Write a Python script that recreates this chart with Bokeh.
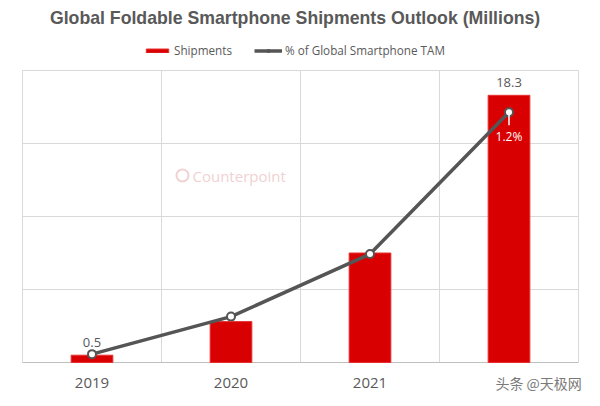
from bokeh.plotting import figure
from bokeh.models import (Range1d, FactorRange, Legend, LegendItem, ColumnDataSource)
from bokeh.core.properties import value
from bokeh.transform import dodge
from bokeh.embed import file_html
from bokeh.resources import INLINE

years = ["2019", "2020", "2021", "2022"]
shipments = [0.5, 2.8, 7.5, 18.3]
tam_pct = [0.04, 0.22, 0.52, 1.2]
ship_labels = ["0.5", "", "", "18.3"]
pct_labels = ["", "", "", "1.2%"]
year_labels = ["2019", "2020", "2021", ""]
grid_values = [5, 10, 15, 20]
boundaries = [0, 1, 2, 3, 4]

title_text = "Global Foldable Smartphone Shipments Outlook (Millions)"

W, H = 600, 406
PX = 14.6          # pixels per million
BASE = 362         # canvas y of the zero line
y_top = 20 + (BASE - 292) / PX
y_bot = -(H - BASE) / PX
pad = (W / 139 - 4) / 2
p = figure(width=W, height=H,
           x_range=FactorRange(*years, range_padding=pad, range_padding_units="absolute"),
           y_range=Range1d(y_bot, y_top),
           output_backend="svg", toolbar_location=None,
           min_border=0, title=None)
pct_scale = 1.4 / 20
p.extra_y_ranges = {"pct": Range1d(y_bot * pct_scale, y_top * pct_scale)}
p.xaxis.visible = False
p.yaxis.visible = False
p.xgrid.visible = False
p.ygrid.visible = False
p.outline_line_color = None
p.background_fill_color = "white"
p.border_fill_color = "white"

# grid
p.segment(x0=[0] * len(grid_values), x1=[4] * len(grid_values), y0=grid_values, y1=grid_values,
          line_color="#d9d9d9", line_width=1)
p.segment(x0=boundaries, x1=boundaries, y0=[0] * 5, y1=[20] * 5,
          line_color="#d9d9d9", line_width=1)
p.segment(x0=[0], x1=[4], y0=[0], y1=[0], line_color="#bfbfbf", line_width=1)

src = ColumnDataSource(dict(year=years, ship=shipments, pct=tam_pct,
                            slab=ship_labels, plab=pct_labels, ylab=year_labels))

bars = p.vbar(x="year", top="ship", width=0.3, source=src,
              fill_color="#D80000", line_color="#E83030", line_width=1)

p.text(x="year", y="ship", text="slab", source=src, y_offset=-13,
       text_align="center", text_baseline="middle",
       text_font=value("Open Sans"), text_font_size="13px", text_color="#595959")

line = p.line(x="year", y="pct", source=src, y_range_name="pct",
              line_color="#555555", line_width=3.5)
pts = p.scatter(x="year", y="pct", source=src, y_range_name="pct", size=8,
                fill_color="white", line_color="#555555", line_width=2)

# leader + percent label
p.segment(x0=["2022"], y0=[1.2], x1=["2022"], y1=[1.138], y_range_name="pct",
          line_color="white", line_width=1.5)
p.text(x="year", y="pct", text="plab", source=src, y_range_name="pct",
       y_offset=24, text_align="center", text_baseline="middle",
       text_font=value("Open Sans"), text_font_size="12px", text_color="white")

# year labels
p.text(x="year", y=-20 / PX, text="ylab", source=src,
       text_align="center", text_baseline="middle",
       text_font=value("Open Sans"), text_font_size="15px", text_color="#595959")

# watermark logo
logo = ColumnDataSource(dict(x=["2020"], y=[(BASE - 175) / PX], t=["Counterpoint"]))
p.scatter(x=dodge("x", -0.349, range=p.x_range), y="y", source=logo, size=12,
          marker="circle", fill_color=None, line_color="#f0d2d2", line_width=2)
p.text(x=dodge("x", -0.277, range=p.x_range), y="y", text="t", source=logo,
       text_align="left", text_baseline="middle",
       text_font=value("Open Sans"), text_font_size="15px", text_color="#f0d2d2")

# title
p.text(x=[1.961], y=[(BASE - 17) / PX], text=[title_text],
       text_align="center", text_baseline="middle",
       text_font=value("Liberation Sans"), text_font_style="bold",
       text_font_size="17.7px", text_color="#595959")

# bottom-right watermark text
p.text(x=[3.713], y=[-20 / PX], text=["头条 @天极网"],
       text_align="center", text_baseline="middle",
       text_font=value("Noto Sans CJK SC"), text_font_size="14px",
       text_color="#7a7a7a")

legend = Legend(items=[LegendItem(label="Shipments", renderers=[bars]),
                       LegendItem(label="% of Global Smartphone TAM", renderers=[line, pts])],
                orientation="horizontal", location=(143, 348),
                glyph_width=28, glyph_height=5, spacing=22, padding=0, margin=0,
                label_text_font="Open Sans", label_text_font_size="11.7px",
                label_text_color="#595959", label_standoff=3,
                border_line_color=None, background_fill_alpha=0)
p.add_layout(legend, "center")

open("out.html", "w").write(file_html(p, INLINE))
